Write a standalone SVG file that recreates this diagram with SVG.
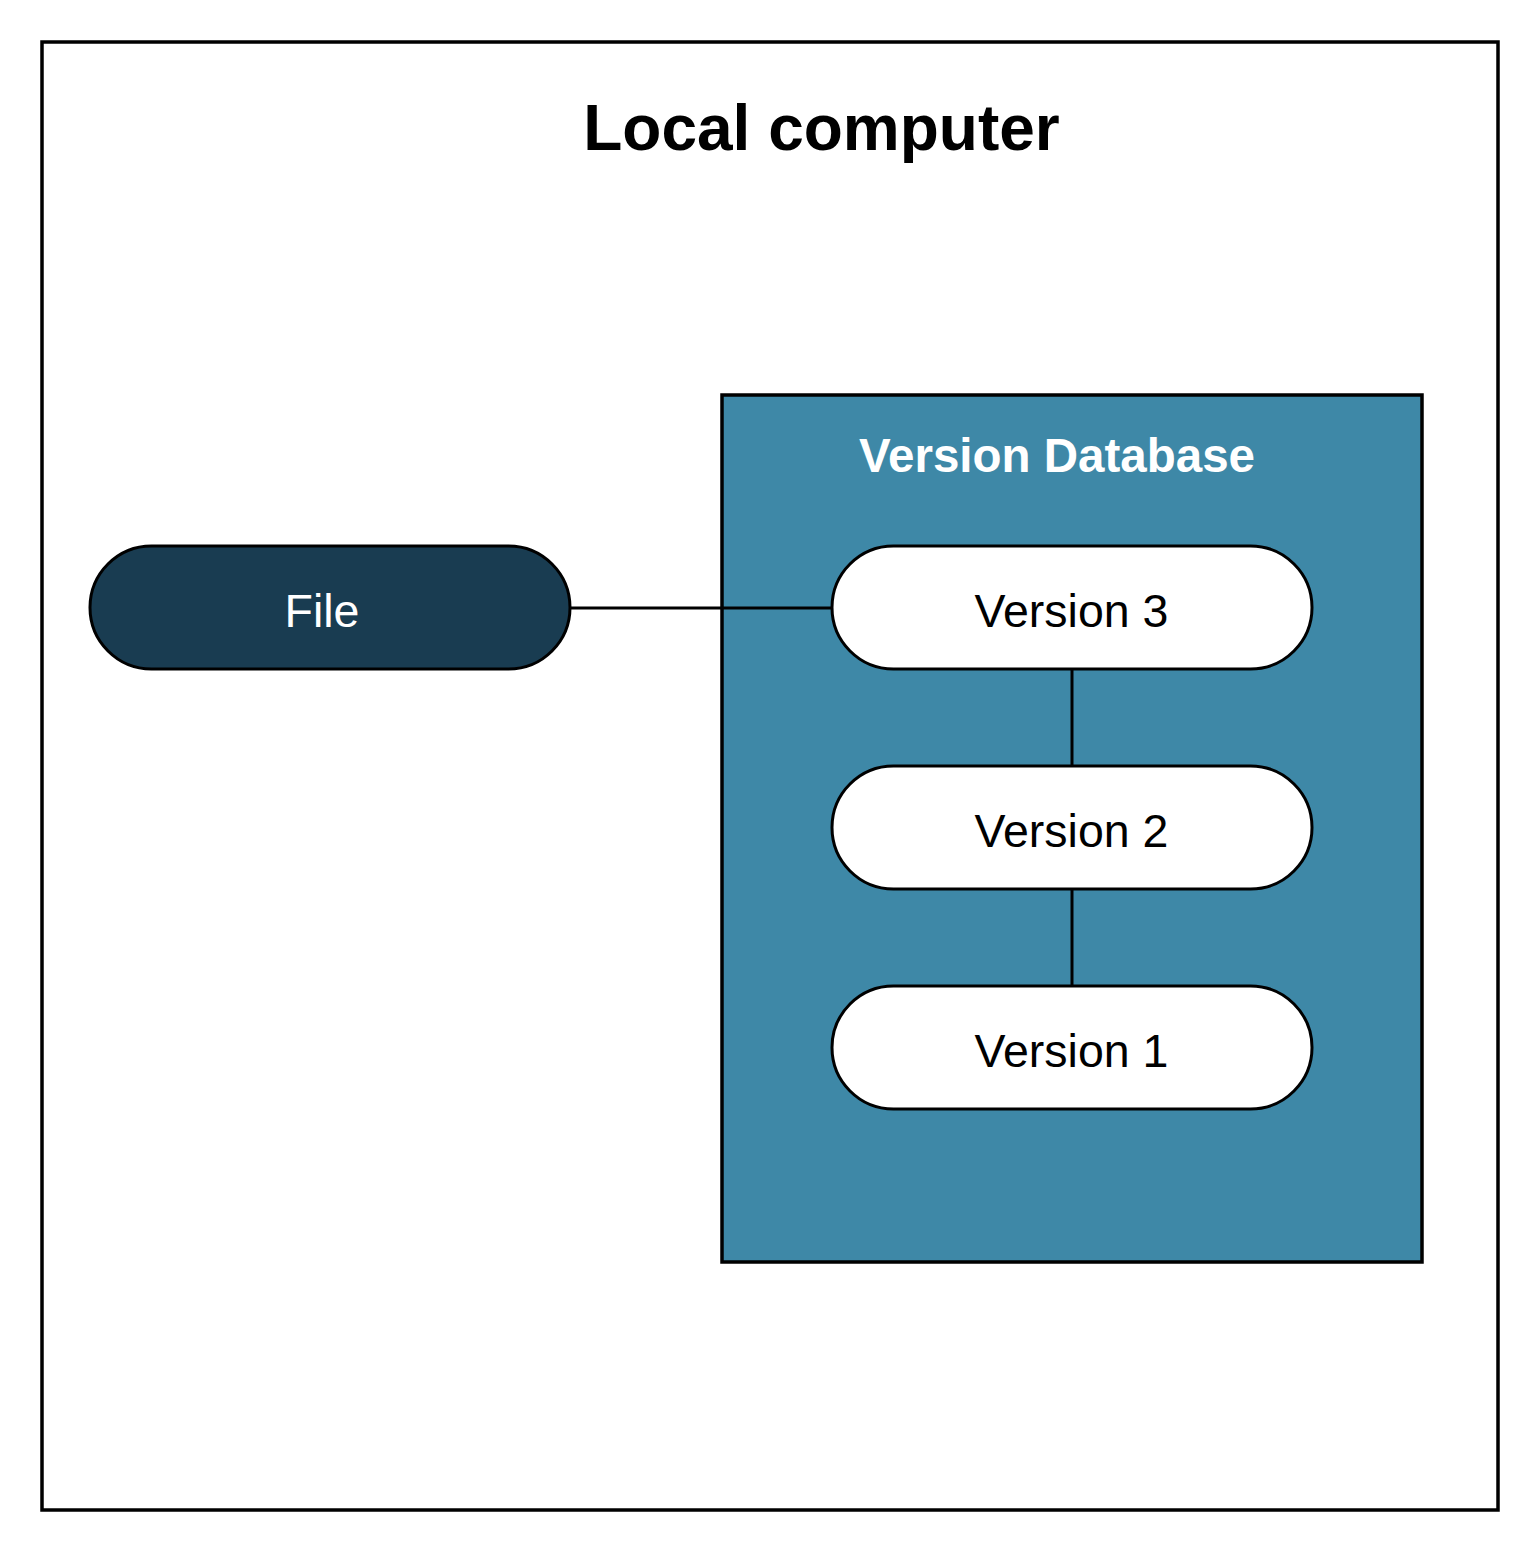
<svg xmlns="http://www.w3.org/2000/svg" width="1540" height="1552" viewBox="0 0 1540 1552">
  <style>
    .frame { stroke: #000; stroke-width: 3.5; }
    .pill { stroke: #000; stroke-width: 3; }
    .conn { stroke: #000; stroke-width: 3; fill: none; }
    .lbl { font-family: "Liberation Sans", Arial, sans-serif; text-anchor: middle; }
  </style>
  <rect width="1540" height="1552" fill="#ffffff"/>
  <g id="local-computer">
    <rect class="frame" x="42" y="42" width="1456" height="1468" fill="#ffffff"/>
    <text class="lbl" x="821.5" y="150" font-size="64" font-weight="bold" fill="#000">Local computer</text>
  </g>
  <g id="version-database">
    <rect class="frame" x="722" y="395" width="700" height="867" fill="#3E88A7"/>
    <text class="lbl" x="1057" y="472" font-size="47.5" font-weight="bold" fill="#ffffff">Version Database</text>
  </g>
  <g id="connectors">
    <line class="conn" x1="570" y1="608" x2="832" y2="608"/>
    <line class="conn" x1="1072" y1="669" x2="1072" y2="766"/>
    <line class="conn" x1="1072" y1="889" x2="1072" y2="986"/>
  </g>
  <g id="file">
    <rect class="pill" x="90" y="546" width="480" height="123" rx="61.5" ry="61.5" fill="#193C51"/>
    <text class="lbl" x="322" y="627" font-size="46.5" fill="#ffffff">File</text>
  </g>
  <g id="version3">
    <rect class="pill" x="832" y="546" width="480" height="123" rx="61.5" ry="61.5" fill="#ffffff"/>
    <text class="lbl" x="1071.5" y="627" font-size="46.5" fill="#000">Version 3</text>
  </g>
  <g id="version2">
    <rect class="pill" x="832" y="766" width="480" height="123" rx="61.5" ry="61.5" fill="#ffffff"/>
    <text class="lbl" x="1071.5" y="847" font-size="46.5" fill="#000">Version 2</text>
  </g>
  <g id="version1">
    <rect class="pill" x="832" y="986" width="480" height="123" rx="61.5" ry="61.5" fill="#ffffff"/>
    <text class="lbl" x="1071.5" y="1067" font-size="46.5" fill="#000">Version 1</text>
  </g>
</svg>
